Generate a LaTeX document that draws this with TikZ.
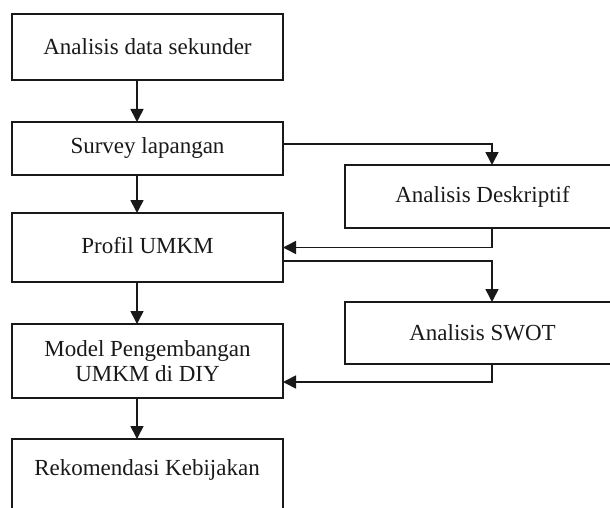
\documentclass[tikz,border=0pt]{standalone}
\usepackage{fontspec}
\setmainfont{Liberation Serif}
\usetikzlibrary{arrows.meta}
\begin{document}
\begin{tikzpicture}[x=1pt,y=-1pt,
  box/.style={draw=black!90, line width=1.6pt, rectangle, inner sep=0pt, outer sep=0pt,
    align=center, font=\fontsize{23}{25}\selectfont, text=black!90},
  conn/.style={draw=black!90, line width=1.6pt, -{Triangle[length=13pt,width=13pt]}}]
\useasboundingbox (0,0) rectangle (610,508);
\clip (0,0) rectangle (610,508);
\node[box, minimum width=271pt, minimum height=66pt] (a) at (147.5,47) {Analisis data sekunder};
\node[box, minimum width=271pt, minimum height=53pt] (b) at (147.5,148.5) {Survey lapangan};
\node[box, minimum width=271pt, minimum height=69pt] (c) at (147.5,247.5) {\raisebox{4pt}{Profil UMKM}};
\node[box, minimum width=271pt, minimum height=74pt] (d) at (147.5,361) {Model Pengembangan\\UMKM di DIY};
\node[box, minimum width=271pt, minimum height=90pt] (e) at (147.5,484) {};
\node[font=\fontsize{23}{25}\selectfont, text=black!90, inner sep=0pt] (etext) at (147,470) {Rekomendasi Kebijakan};
\node[box, minimum width=275pt, minimum height=63pt] (r1) at (482.5,196.5) {Analisis Deskriptif};
\node[box, minimum width=275pt, minimum height=62pt] (r2) at (482.5,333) {Analisis SWOT};
\draw[conn] ([xshift=-10.5pt]a.south) -- ([xshift=-10.5pt]b.north);
\draw[conn] ([xshift=-10.5pt]b.south) -- ([xshift=-10.5pt]c.north);
\draw[conn] ([xshift=-10.5pt]c.south) -- ([xshift=-10.5pt]d.north);
\draw[conn] ([xshift=-10.5pt]d.south) -- ([xshift=-10.5pt]e.north);
\draw[conn] ([yshift=4.5pt]b.east) -| ([xshift=9.5pt]r1.north);
\draw[conn] ([xshift=9.5pt]r1.south) |- (c.east);
\draw[conn] ([yshift=-13.5pt]c.east) -| ([xshift=9.5pt]r2.north);
\draw[conn] ([xshift=9.5pt]r2.south) |- ([yshift=-21pt]d.east);
\end{tikzpicture}
\end{document}
